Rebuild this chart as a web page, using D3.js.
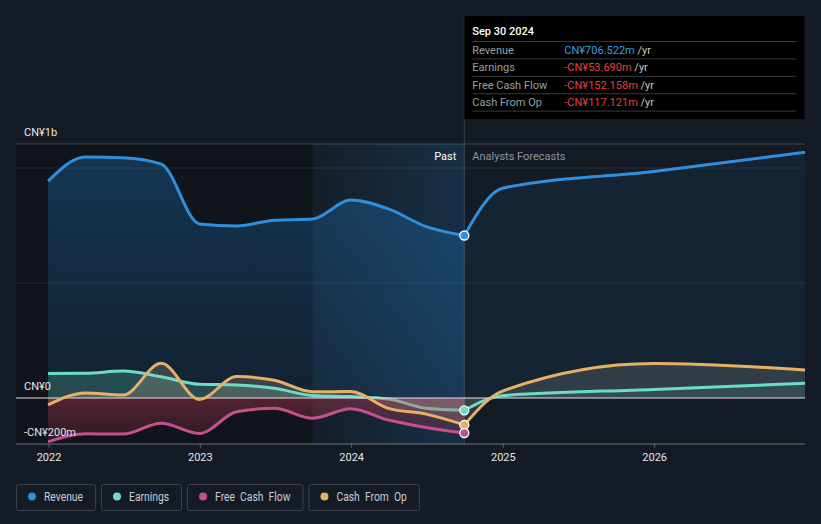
<!DOCTYPE html>
<html>
<head>
	<meta charset="utf-8">
	<script src="https://d3js.org/d3.v7.min.js"></script>
	<style>
		body { margin: 0; background: #151b24; }
		svg { display: block; font-family: Roboto, "Noto Sans", sans-serif; }
	</style>
</head>
<body>
	<svg width="821" height="524"></svg>
	<script>
		// quarterly trailing values, CN¥ millions
		const pastDates = ["2021-12-31", "2022-03-31", "2022-06-30", "2022-09-30", "2022-12-31", "2023-03-31",
			"2023-06-30", "2023-09-30", "2023-12-31", "2024-03-31", "2024-06-30", "2024-09-30"];
		const revenuePast = [943, 1048, 1045, 1017, 757, 748, 773, 778, 861, 822, 745, 706.522];
		const earningsPast = [107, 108, 117, 92, 60, 57, 42, 11, 6, -4, -45, -53.69];
		const fcfPast = [-190, -155, -157, -110, -154, -60, -45, -88, -47, -96, -128, -152.158];
		const cfoPast = [-30, 22, 13, 151, -6, 93, 77, 27, 28, -45, -70, -117.121];

		const forecastDates = ["2024-09-30", "2024-12-31", "2025-12-31", "2026-12-31"];
		const revenueFc = [706.522, 912, 985, 1068];
		const earningsFc = [-53.69, 10, 37, 64];
		const cfoFc = [-117.121, 30, 150, 122];

		const yTicks = [-200, 0, 500, 1000];
		const yLabels = ["-CN¥200m", "CN¥0", "", "CN¥1b"];
		const xYears = ["2022", "2023", "2024", "2025", "2026"];

		const tipTitle = "Sep 30 2024";
		const tipRows = ["Revenue", "Earnings", "Free Cash Flow", "Cash From Op"];
		const tipValues = ["CN¥706.522m", "-CN¥53.690m", "-CN¥152.158m", "-CN¥117.121m"];

		const colors = {
			Revenue: "#2d8fdd",
			Earnings: "#6bdcc6",
			"Free Cash Flow": "#c6508c",
			"Cash From Op": "#e6b066"
		};

		const parse = d3.timeParse("%Y-%m-%d");
		const svg = d3.select("svg");
		const pLeft = 16, pRight = 805, pTop = 144, pBottom = 444;

		const x = d3.scaleTime()
			.domain([new Date(2022, 0, 1), new Date(2027, 0, 1)])
			.range([48.5, 805.5]);
		const y = d3.scaleLinear().domain([-200, 1000]).range([444, 168]);

		const nowDate = parse(pastDates[pastDates.length - 1]);
		const yearAgo = parse("2023-09-30");

		const defs = svg.append("defs");
		const revGrad = defs.append("linearGradient").attr("id", "revGrad")
			.attr("x1", 0).attr("x2", 0).attr("y1", 0).attr("y2", 1);
		revGrad.append("stop").attr("offset", "0%").attr("stop-color", "#2196f3").attr("stop-opacity", 0.25);
		revGrad.append("stop").attr("offset", "100%").attr("stop-color", "#2196f3").attr("stop-opacity", 0.1);
		const hiGrad = defs.append("linearGradient").attr("id", "hiGrad");
		hiGrad.append("stop").attr("offset", "0%").attr("stop-color", "#2196f3").attr("stop-opacity", 0.03);
		hiGrad.append("stop").attr("offset", "100%").attr("stop-color", "#2196f3").attr("stop-opacity", 0.17);
		const redGrad = defs.append("linearGradient").attr("id", "redGrad")
			.attr("x1", 0).attr("x2", 0).attr("y1", 0).attr("y2", 1);
		redGrad.append("stop").attr("offset", "0%").attr("stop-color", "#d83c5a").attr("stop-opacity", 0.34);
		redGrad.append("stop").attr("offset", "100%").attr("stop-color", "#d83c5a").attr("stop-opacity", 0.14);

		// background bands
		svg.append("rect").attr("x", pLeft).attr("y", pTop)
			.attr("width", x(yearAgo) - pLeft).attr("height", pBottom - pTop)
			.attr("fill", "#000").attr("fill-opacity", 0.2);
		svg.append("rect").attr("x", x(yearAgo)).attr("y", pTop)
			.attr("width", x(nowDate) - x(yearAgo)).attr("height", pBottom - pTop)
			.attr("fill", "url(#hiGrad)");

		// grid
		svg.append("line").attr("x1", pLeft).attr("x2", pRight).attr("y1", pTop).attr("y2", pTop)
			.attr("stroke", "#fff").attr("stroke-opacity", 0.18);
		svg.selectAll(".grid").data(yTicks.filter(d => d !== 0)).enter().append("line")
			.attr("class", "grid")
			.attr("x1", pLeft).attr("x2", pRight)
			.attr("y1", d => y(d)).attr("y2", d => y(d))
			.attr("stroke", "#fff").attr("stroke-opacity", d => d === -200 ? 0.2 : 0.09);

		const past = pastDates.map((d, i) => ({
			date: parse(d), rev: revenuePast[i], earn: earningsPast[i], fcf: fcfPast[i], cfo: cfoPast[i]
		}));
		const fc = forecastDates.map((d, i) => ({
			date: parse(d), rev: revenueFc[i], earn: earningsFc[i], cfo: cfoFc[i]
		}));

		const curve = d3.curveMonotoneX;
		const area = key => d3.area().curve(curve).x(d => x(d.date)).y0(y(0)).y1(d => y(d[key]));
		const line = key => d3.line().curve(curve).x(d => x(d.date)).y(d => y(d[key]));

		// areas
		svg.append("path").datum(past).attr("d", area("rev")).attr("fill", "url(#revGrad)");
		svg.append("path").datum(fc).attr("d", area("rev")).attr("fill", "#2196f3").attr("fill-opacity", 0.07);
		svg.append("path").datum(past).attr("d", area("earn")).attr("fill", colors.Earnings).attr("fill-opacity", 0.22);
		svg.append("path").datum(fc).attr("d", area("earn")).attr("fill", colors.Earnings).attr("fill-opacity", 0.08);
		svg.append("path").datum(past).attr("d", area("cfo")).attr("fill", "#d0b890").attr("fill-opacity", 0.22);
		svg.append("path").datum(fc).attr("d", area("cfo")).attr("fill", "#fff").attr("fill-opacity", 0.12);

		// lines
		[["rev", "Revenue"], ["earn", "Earnings"]].forEach(([k, name]) => {
			svg.append("path").datum(past).attr("d", line(k)).attr("fill", "none")
				.attr("stroke", colors[name]).attr("stroke-width", 3);
			svg.append("path").datum(fc).attr("d", line(k)).attr("fill", "none")
				.attr("stroke", colors[name]).attr("stroke-width", 3);
		});

		svg.append("path").datum(past).attr("d", area("fcf")).attr("fill", "url(#redGrad)");

		// zero line
		svg.append("line").attr("x1", pLeft).attr("x2", pRight).attr("y1", y(0)).attr("y2", y(0))
			.attr("stroke", "#e8e0e4").attr("stroke-width", 1.2);

		svg.append("path").datum(past).attr("d", line("fcf")).attr("fill", "none")
			.attr("stroke", colors["Free Cash Flow"]).attr("stroke-width", 3);
		svg.append("path").datum(past).attr("d", line("cfo")).attr("fill", "none")
			.attr("stroke", colors["Cash From Op"]).attr("stroke-width", 3);
		svg.append("path").datum(fc).attr("d", line("cfo")).attr("fill", "none")
			.attr("stroke", colors["Cash From Op"]).attr("stroke-width", 3);

		// now marker line
		svg.append("line").attr("x1", x(nowDate)).attr("x2", x(nowDate)).attr("y1", 16).attr("y2", pBottom)
			.attr("stroke", "#fff").attr("stroke-opacity", 0.15);

		// end points
		const last = past[past.length - 1];
		[["rev", "Revenue"], ["earn", "Earnings"], ["cfo", "Cash From Op"], ["fcf", "Free Cash Flow"]].forEach(([k, name]) => {
			svg.append("circle").attr("cx", x(last.date)).attr("cy", y(last[k])).attr("r", 4.5)
				.attr("fill", colors[name]).attr("stroke", "#fff").attr("stroke-width", 1.3);
		});

		// y labels
		svg.selectAll(".ylab").data(yTicks).enter().append("text")
			.attr("x", 24)
			.attr("y", d => (d === 1000 ? pTop : y(d)) - 8)
			.attr("fill", "#e4e6ea").attr("font-size", 11)
			.text((d, i) => yLabels[i]);

		// x axis
		svg.append("line").attr("x1", pLeft).attr("x2", pRight).attr("y1", pBottom).attr("y2", pBottom)
			.attr("stroke", "#fff").attr("stroke-opacity", 0.2);
		const xAxis = svg.append("g").attr("transform", `translate(0,${pBottom})`)
			.call(d3.axisBottom(x).tickValues(xYears.map(d => new Date(+d, 0, 1)))
				.tickFormat(d3.timeFormat("%Y")).tickSize(4).tickPadding(5));
		xAxis.select(".domain").remove();
		xAxis.selectAll("line").attr("stroke", "#fff").attr("stroke-opacity", 0.25);
		xAxis.selectAll("text").attr("fill", "#e4e6ea").attr("font-size", 11)
			.attr("font-family", "Roboto, sans-serif");

		// past / forecast labels
		svg.append("text").attr("x", x(nowDate) - 8).attr("y", 160).attr("text-anchor", "end")
			.attr("fill", "#fff").attr("font-size", 11).text("Past");
		svg.append("text").attr("x", x(nowDate) + 8).attr("y", 160)
			.attr("fill", "#8d939c").attr("font-size", 11).text("Analysts Forecasts");

		// tooltip
		const tip = svg.append("g").attr("transform", `translate(${x(nowDate)},16)`);
		tip.append("rect").attr("width", 340).attr("height", 103).attr("fill", "#000");
		tip.append("text").attr("x", 8).attr("y", 19).attr("fill", "#fff")
			.attr("font-size", 11).attr("font-weight", 500).text(tipTitle);
		tipRows.forEach((r, i) => {
			const ry = 25.5 + i * 17.4;
			tip.append("line").attr("x1", 8).attr("x2", 332).attr("y1", ry).attr("y2", ry)
				.attr("stroke", "#3a3a3a");
			const t = tip.append("text").attr("x", 8).attr("y", ry + 12.5).attr("font-size", 11);
			t.append("tspan").attr("fill", "#9aa0a8").text(r);
			const v = tip.append("text").attr("x", 100).attr("y", ry + 12.5).attr("font-size", 11);
			v.append("tspan").attr("fill", tipValues[i].startsWith("-") ? "#e5403e" : "#3a9ee6").text(tipValues[i]);
			v.append("tspan").attr("fill", "#c6c8cc").text(" /yr");
		});
		tip.append("line").attr("x1", 8).attr("x2", 332).attr("y1", 25.5 + 4 * 17.4).attr("y2", 25.5 + 4 * 17.4)
			.attr("stroke", "#3a3a3a");

		// legend
		const legendNames = ["Revenue", "Earnings", "Free Cash Flow", "Cash From Op"];
		let lx = 16;
		legendNames.forEach(name => {
			const g = svg.append("g").attr("transform", `translate(${lx},484)`);
			const txt = g.append("text").attr("x", 28).attr("y", 16.5).attr("fill", "#c9ccd2")
				.attr("font-size", 12).attr("word-spacing", 3).text(name);
			const tw = txt.node().getComputedTextLength() * 0.86;
			txt.attr("textLength", tw).attr("lengthAdjust", "spacingAndGlyphs");
			const w = tw + 40;
			g.insert("rect", "text").attr("x", 0.5).attr("y", 0.5).attr("width", w).attr("height", 26)
				.attr("rx", 2).attr("fill", "none").attr("stroke", "#3b414b");
			g.append("circle").attr("cx", 16).attr("cy", 12.5).attr("r", 4).attr("fill", colors[name]);
			lx += w + 6;
		});
	</script>
</body>
</html>
